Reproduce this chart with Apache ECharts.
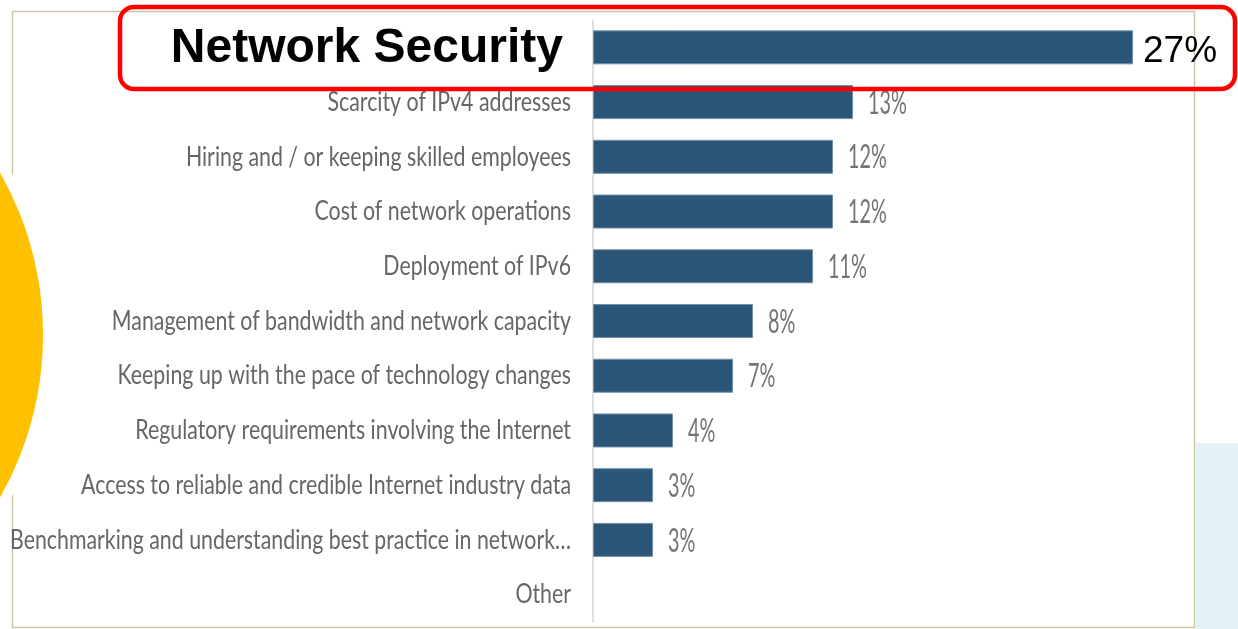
<!DOCTYPE html>
<html>
<head>
<meta charset="utf-8">
<script src="https://cdn.jsdelivr.net/npm/echarts@6/dist/echarts.min.js"></script>
<style>
  html, body { margin: 0; padding: 0; background: #ffffff; }
  #chart { width: 1238px; height: 629px; }
</style>
</head>
<body>
<div id="chart"></div>
<script>
// Top challenges for network operators (share of respondents, %)
const categories = [
  'Network Security',
  'Scarcity of IPv4 addresses',
  'Hiring and / or keeping skilled employees',
  'Cost of network operations',
  'Deployment of IPv6',
  'Management of bandwidth and network capacity',
  'Keeping up with the pace of technology changes',
  'Regulatory requirements involving the Internet',
  'Access to reliable and credible Internet industry data',
  'Benchmarking and understanding best practice in network…',
  'Other'
];
const shares = [27, 13, 12, 12, 11, 8, 7, 4, 3, 3, null];
const highlightIndex = 0;

const slideFont = 'Lato, "Open Sans", sans-serif';
const boldFont = '"Liberation Sans", Arial, sans-serif';

const chart = echarts.init(document.getElementById('chart'), null, { renderer: 'canvas' });

// Category names drawn next to the axis in a tall, condensed style
function renderCategoryLabel(params, api) {
  const idx = api.value(1);
  const p = api.coord([0, idx]);
  const name = categories[params.dataIndex];
  if (params.dataIndex === highlightIndex) {
    return {
      type: 'text', x: p[0] - 30, y: p[1] + 1,
      style: {
        text: name, align: 'right', verticalAlign: 'middle',
        fontFamily: boldFont, fontWeight: 'bold', fontSize: 48, fill: '#000000'
      }
    };
  }
  return {
    type: 'text', x: p[0] - 22, y: p[1],
    scaleX: 0.79,
    style: {
      text: name, align: 'right', verticalAlign: 'middle',
      fontFamily: slideFont, fontSize: 27, fill: '#666666'
    }
  };
}

// Percentage labels at the end of each bar
function renderValueLabel(params, api) {
  const v = api.value(0);
  if (v == null || isNaN(v)) return null;
  const p = api.coord([v, api.value(1)]);
  if (params.dataIndex === highlightIndex) {
    return {
      type: 'text', x: p[0] + 10, y: p[1] + 4,
      style: {
        text: v + '%', align: 'left', verticalAlign: 'middle',
        fontFamily: boldFont, fontSize: 37, fill: '#000000'
      }
    };
  }
  return {
    type: 'text', x: p[0] + 15, y: p[1] + 1,
    scaleX: 0.6,
    style: {
      text: v + '%', align: 'left', verticalAlign: 'middle',
      fontFamily: slideFont, fontSize: 33, fill: '#737373'
    }
  };
}

chart.setOption({
  animation: false,
  backgroundColor: '#ffffff',
  grid: { left: 593, right: 45, top: 20, bottom: 7, outerBoundsMode: 'none' },
  xAxis: {
    type: 'value',
    min: 0,
    max: 30,
    show: false
  },
  yAxis: {
    type: 'category',
    inverse: true,
    data: categories,
    axisLine: { show: true, lineStyle: { color: '#d6d6d6', width: 1.5 } },
    axisTick: { show: false },
    splitLine: { show: false },
    axisLabel: { show: false }
  },
  series: [
    {
      type: 'bar',
      data: shares,
      barWidth: 34,
      itemStyle: { color: '#2b5677', borderColor: '#6f90ae', borderWidth: 1 }
    },
    {
      type: 'custom',
      clip: false,
      data: categories.map(c => [0, c]),
      encode: { x: 0, y: 1 },
      renderItem: renderCategoryLabel,
      z: 5
    },
    {
      type: 'custom',
      clip: false,
      data: shares.map((v, i) => [v, categories[i]]),
      encode: { x: 0, y: 1 },
      renderItem: renderValueLabel,
      z: 5
    }
  ],
  graphic: [
    // slide panel behind the chart, light blue strip to the right
    {
      type: 'rect', z: -10, silent: true,
      shape: { x: 1196, y: 443, width: 50, height: 200 },
      style: { fill: '#e3f2f5' }
    },
    // chart frame
    {
      type: 'rect', z: -5, silent: true,
      shape: { x: 12.5, y: 11.5, width: 1182, height: 616 },
      style: { fill: 'none', stroke: '#cdc6a4', lineWidth: 1.5 }
    },
    // yellow decorative disc on the left
    {
      type: 'circle', z: 50, silent: true,
      shape: { cx: -285.5, cy: 335, r: 333.5 },
      style: { fill: '#ffc000', stroke: '#ffffff', lineWidth: 10 }
    },
    // red callout round the top item
    {
      type: 'rect', z: 60, silent: true,
      shape: { x: 120, y: 7, width: 1115, height: 82, r: 14 },
      style: { fill: 'none', stroke: '#ff0000', lineWidth: 4.5 }
    }
  ]
});
</script>
</body>
</html>
